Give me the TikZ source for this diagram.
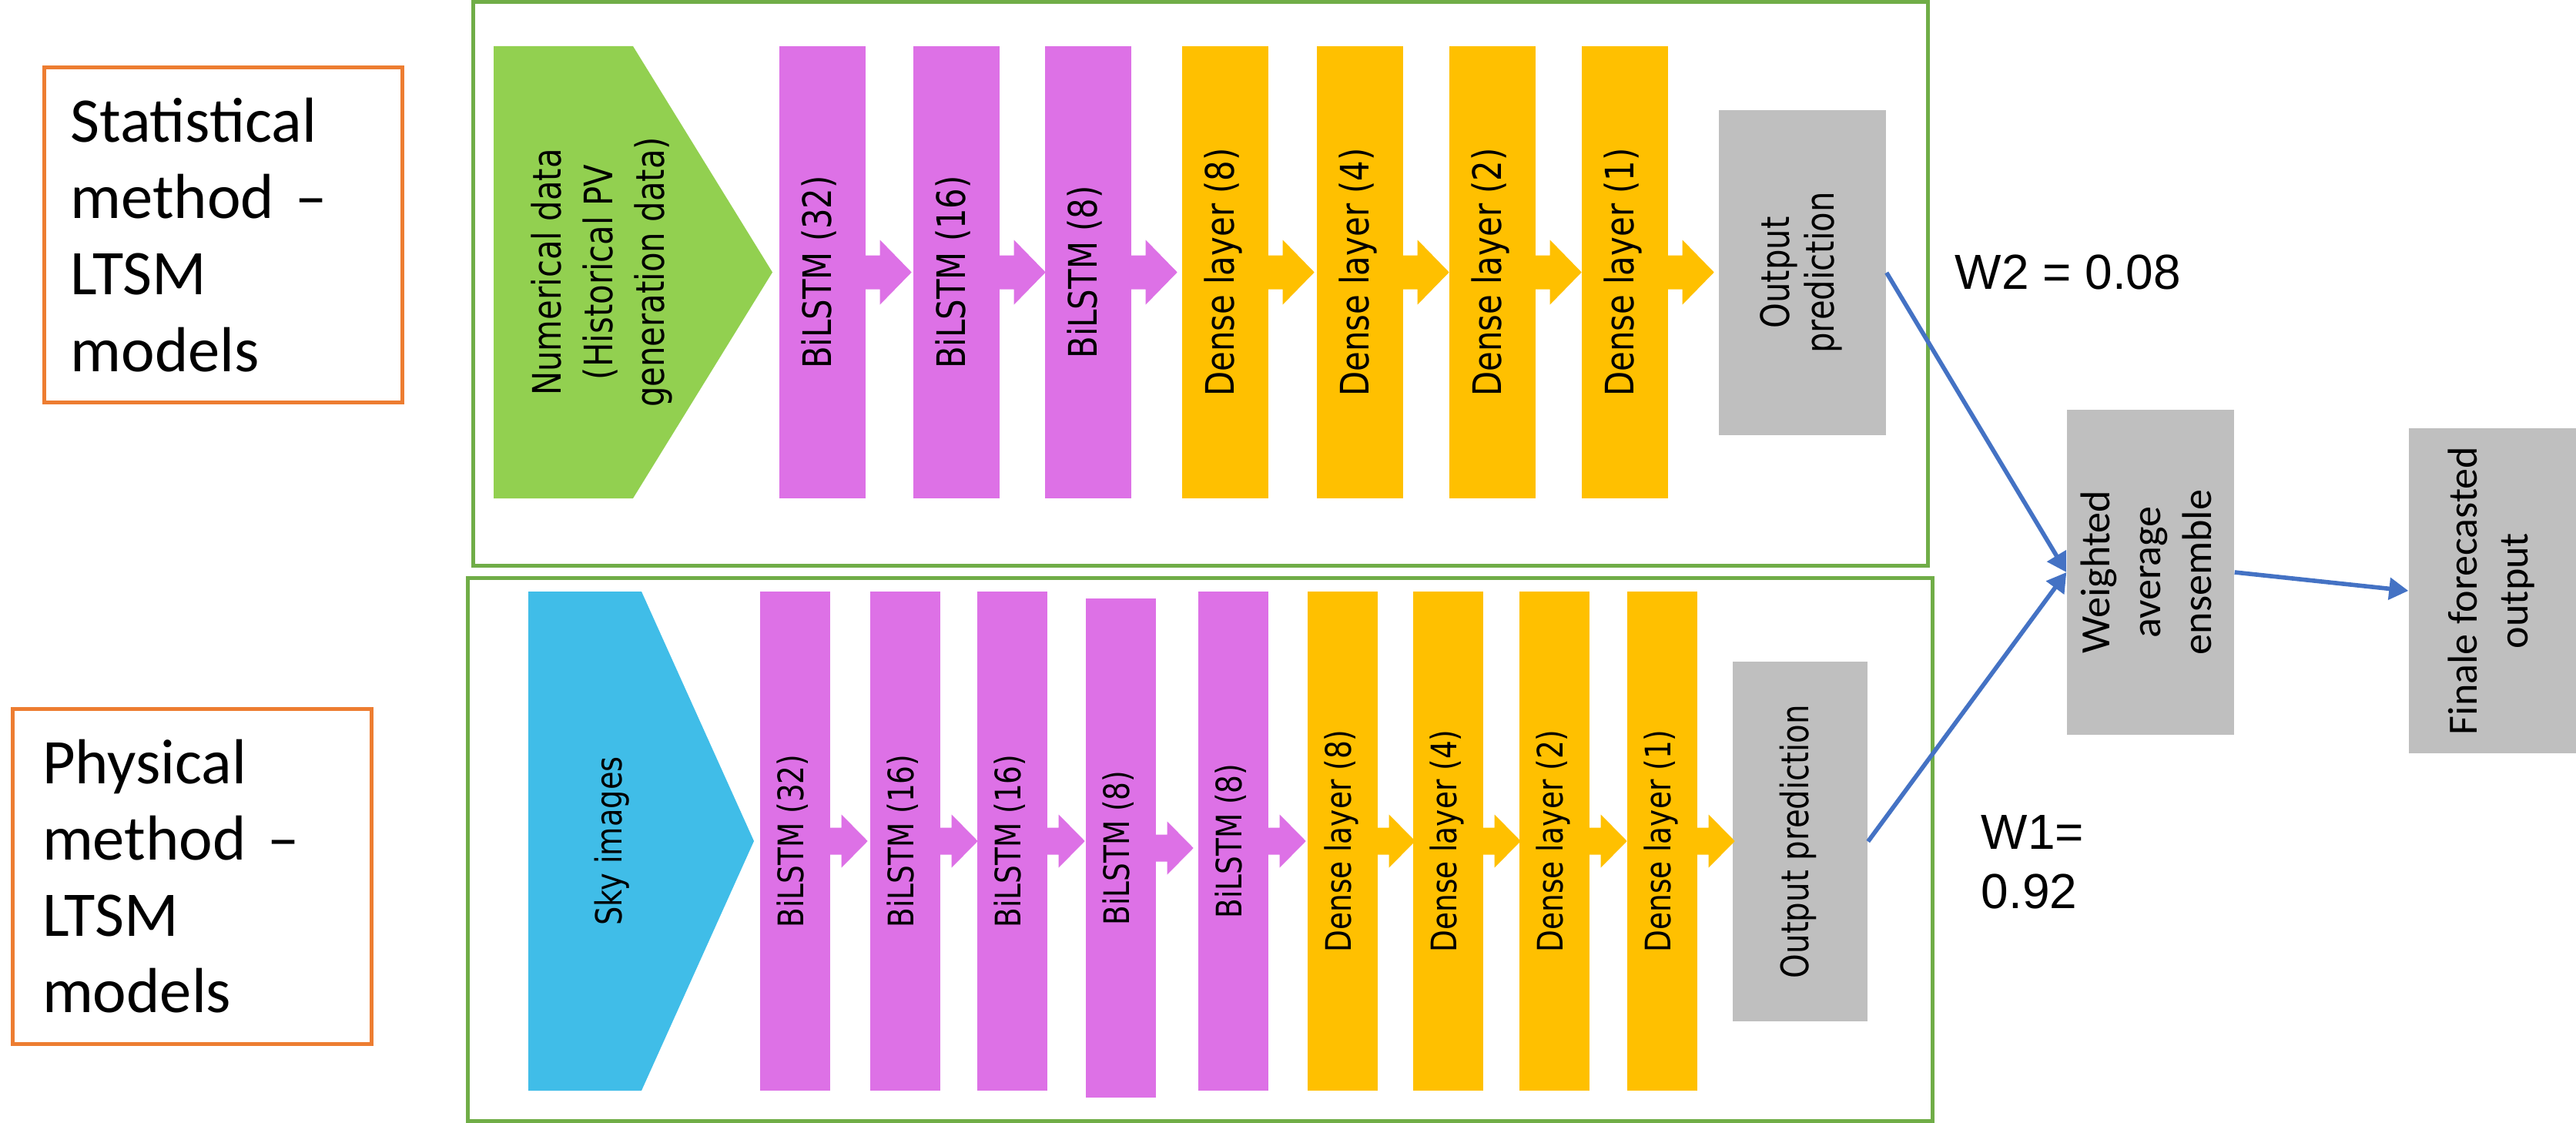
\documentclass[tikz,border=0pt]{standalone}
\usepackage{fontspec}
\setmainfont{Carlito}
\newfontfamily\layerfont{DejaVu Sans}
\newfontfamily\weightfont{Liberation Sans}
\usetikzlibrary{arrows.meta}
\definecolor{framegreen}{HTML}{70AD47}
\definecolor{methodorange}{HTML}{ED7D31}
\definecolor{lstmpink}{HTML}{DD71E6}
\definecolor{denseyellow}{HTML}{FFC000}
\definecolor{outgray}{HTML}{BFBFBF}
\definecolor{inputgreen}{HTML}{92D050}
\definecolor{skyblue}{HTML}{40BDE8}
\definecolor{linkblue}{HTML}{4472C4}
\newcommand{\vtext}[1]{\rotatebox{90}{\begin{tabular}{@{}c@{}}#1\end{tabular}}}
\newcommand{\vlayer}[1]{\rotatebox{90}{\scalebox{0.82}[1]{\begin{tabular}{@{}c@{}}#1\end{tabular}}}}
\tikzset{
  frame/.style={draw=framegreen, line width=0.05cm},
  method/.style={draw=methodorange, line width=0.05cm, align=left, inner ysep=0pt,
    font=\fontsize{23.5}{28.2}\selectfont},
  layerbar/.style={minimum width=1.12cm, minimum height=5.87cm, inner sep=0pt,
    font=\layerfont\fontsize{14.5}{16.5}\selectfont},
  smallbar/.style={minimum width=0.91cm, minimum height=6.48cm, inner sep=0pt,
    font=\layerfont\fontsize{13}{15}\selectfont},
  result/.style={fill=outgray, minimum width=2.17cm, minimum height=4.22cm, inner sep=0pt,
    font=\fontsize{15.4}{18.8}\selectfont},
  wlabel/.style={inner sep=0pt, align=left, font=\weightfont\fontsize{18.2}{21.9}\selectfont},
  link/.style={draw=linkblue, line width=1.6pt, -{Triangle[length=0.25cm, width=0.28cm]}}
}
\begin{document}
\begin{tikzpicture}[x=1cm, y=-1cm]
    \path[fill=white, use as bounding box] (0,0) rectangle (33.45,14.58);
    % the two model frames
    \draw[frame] (6.145,0.023) rectangle (25.035,7.34);
    \draw[frame] (6.075,7.505) rectangle (25.095,14.55);
    \node[method, minimum width=4.65cm, minimum height=4.34cm, inner xsep=0.34cm, text width=3.97cm] (stat) at (2.90,3.05) {Statistical\\method –\\LTSM\\models};
    \node[method, minimum width=4.65cm, minimum height=4.35cm, inner xsep=0.38cm, text width=3.89cm] (phys) at (2.495,11.375) {Physical\\method –\\LTSM\\models};
    % inputs
    \fill[inputgreen] (6.41,0.60) -- (8.22,0.60) -- (10.03,3.535) -- (8.22,6.47) -- (6.41,6.47) -- cycle;
    \node[inner sep=0pt, font=\layerfont\fontsize{14.5}{19}\selectfont] (numdata) at (7.82,3.535) {\vlayer{Numerical data\\(Historical PV\\generation data)}};
    \fill[skyblue] (6.86,7.68) -- (8.33,7.68) -- (9.79,10.92) -- (8.33,14.16) -- (6.86,14.16) -- cycle;
    \node[inner sep=0pt, font=\layerfont\fontsize{13.3}{15}\selectfont] (sky) at (7.97,10.92) {\vlayer{Sky images}};
    % statistical layers
    \node[layerbar, fill=lstmpink] (t1) at (10.68,3.535) {\vlayer{BiLSTM (32)}};
    \node[layerbar, fill=lstmpink] (t2) at (12.42,3.535) {\vlayer{BiLSTM (16)}};
    \node[layerbar, fill=lstmpink] (t3) at (14.13,3.535) {\vlayer{BiLSTM (8)}};
    \node[layerbar, fill=denseyellow] (t4) at (15.91,3.535) {\vlayer{Dense layer (8)}};
    \node[layerbar, fill=denseyellow] (t5) at (17.66,3.535) {\vlayer{Dense layer (4)}};
    \node[layerbar, fill=denseyellow] (t6) at (19.38,3.535) {\vlayer{Dense layer (2)}};
    \node[layerbar, fill=denseyellow] (t7) at (21.10,3.535) {\vlayer{Dense layer (1)}};
    \node[layerbar, fill=outgray, minimum width=2.17cm, minimum height=4.22cm] (out1) at (23.405,3.54) {\vlayer{Output\\prediction}};
    % physical layers
    \node[smallbar, fill=lstmpink] (b1) at (10.325,10.92) {\vlayer{BiLSTM (32)}};
    \node[smallbar, fill=lstmpink] (b2) at (11.755,10.92) {\vlayer{BiLSTM (16)}};
    \node[smallbar, fill=lstmpink] (b3) at (13.145,10.92) {\vlayer{BiLSTM (16)}};
    \node[smallbar, fill=lstmpink] (b4) at (14.555,11.01) {\vlayer{BiLSTM (8)}};
    \node[smallbar, fill=lstmpink] (b5) at (16.015,10.92) {\vlayer{BiLSTM (8)}};
    \node[smallbar, fill=denseyellow] (b6) at (17.435,10.92) {\vlayer{Dense layer (8)}};
    \node[smallbar, fill=denseyellow] (b7) at (18.805,10.92) {\vlayer{Dense layer (4)}};
    \node[smallbar, fill=denseyellow] (b8) at (20.185,10.92) {\vlayer{Dense layer (2)}};
    \node[smallbar, fill=denseyellow] (b9) at (21.585,10.92) {\vlayer{Dense layer (1)}};
    \node[smallbar, fill=outgray, minimum width=1.75cm, minimum height=4.67cm, font=\layerfont\fontsize{14}{16}\selectfont] (out2) at (23.375,10.925) {\vlayer{Output prediction}};
    % block arrows between the layers
    \foreach \a/\c in {t1/lstmpink, t2/lstmpink, t3/lstmpink, t4/denseyellow, t5/denseyellow, t6/denseyellow, t7/denseyellow}
      \fill[\c] ([xshift=-0.01cm]\a.east) ++(0,-0.22) -- ++(0.19,0) -- ++(0,-0.20) -- ++(0.41,0.42) -- ++(-0.41,0.42) -- ++(0,-0.20) -- ++(-0.19,0) -- cycle;
    \foreach \a/\c in {b1/lstmpink, b2/lstmpink, b3/lstmpink, b4/lstmpink, b5/lstmpink, b6/denseyellow, b7/denseyellow, b8/denseyellow, b9/denseyellow}
      \fill[\c] ([xshift=-0.01cm]\a.east) ++(0,-0.175) -- ++(0.15,0) -- ++(0,-0.17) -- ++(0.34,0.345) -- ++(-0.34,0.345) -- ++(0,-0.17) -- ++(-0.15,0) -- cycle;
    % ensemble
    \node[result] (wae) at (27.925,7.43) {\vtext{Weighted\\average\\ensemble}};
    \node[result] (fin) at (32.365,7.67) {\vtext{Finale forecasted\\output}};
    \node[wlabel, anchor=base west] (w2) at (25.38,3.75) {W2 = 0.08};
    \node[wlabel, anchor=north west] (w1) at (25.72,10.58) {W1=\\0.92};
    \draw[link] (out1.east) -- (wae.west);
    \draw[link] (out2.east) -- (wae.west);
    \draw[link] (wae.east) -- (fin.west);
  \end{tikzpicture}
\end{document}
